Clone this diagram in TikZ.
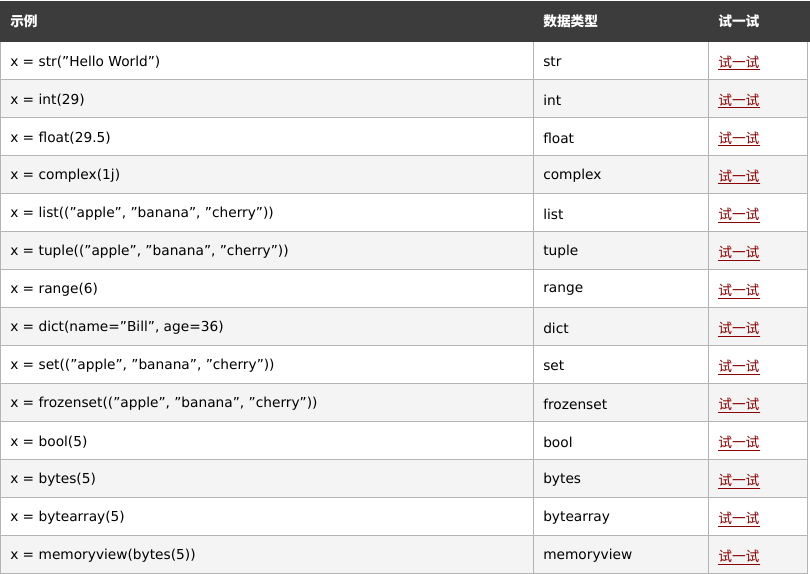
\documentclass[tikz,border=0pt]{standalone}
\usepackage{fontspec}
\setmainfont{DejaVu Sans}[Ligatures=ResetAll]
\newfontfamily\cjk{Noto Sans CJK SC}
\definecolor{hdr}{HTML}{3C3C3C}
\definecolor{alt}{HTML}{F4F4F4}
\definecolor{grid}{HTML}{B4B4B4}
\definecolor{lnk}{HTML}{8B0000}
\newcommand\qq{\char34 }
\begin{document}
\begin{tikzpicture}[x=0.75pt,y=-0.75pt,
  cell/.style={anchor=west,inner sep=0pt,font=\fontsize{10.3}{12}\selectfont},
  hcell/.style={anchor=west,inner sep=0pt,text=white,font=\cjk\bfseries\fontsize{10.3}{12}\selectfont},
  link/.style={anchor=west,inner sep=0pt,text=lnk,font=\cjk\fontsize{10.3}{12}\selectfont}]
\useasboundingbox (0,0) rectangle (810,574);
\fill[white] (0,0) rectangle (810,574);
\fill[hdr] (0,1) rectangle (810,42);
\node[hcell] (h1) at (10,21) {示例};
\node[hcell] (h2) at (543,21) {数据类型};
\node[hcell] (h3) at (718,21) {试一试};
\foreach[count=\i] \a/\b in {
 {x = str(\qq Hello World\qq)}/str,
 {x = int(29)}/int,
 {x = float(29.5)}/float,
 {x = complex(1j)}/complex,
 {x = list((\qq apple\qq, \qq banana\qq, \qq cherry\qq))}/list,
 {x = tuple((\qq apple\qq, \qq banana\qq, \qq cherry\qq))}/tuple,
 {x = range(6)}/range,
 {x = dict(name=\qq Bill\qq, age=36)}/dict,
 {x = set((\qq apple\qq, \qq banana\qq, \qq cherry\qq))}/set,
 {x = frozenset((\qq apple\qq, \qq banana\qq, \qq cherry\qq))}/frozenset,
 {x = bool(5)}/bool,
 {x = bytes(5)}/bytes,
 {x = bytearray(5)}/bytearray,
 {x = memoryview(bytes(5))}/memoryview}{
  \pgfmathsetmacro\yt{42+(\i-1)*38}
  \ifodd\i\else\fill[alt] (0,\yt) rectangle (808,\yt+38);\fi
  \draw[grid] (0,\yt+37.5) -- (808,\yt+37.5);
  \node[cell] (a\i) at (10,\yt+20) {\a};
  \node[cell] (b\i) at (543,\yt+20) {\b};
  \node[link] (c\i) at (718,\yt+20) {试一试};
  \draw[lnk,line width=0.75pt] (718,\yt+28) -- (760,\yt+28);
}
\draw[grid] (0.5,42) -- (0.5,574);
\draw[grid] (533.5,42) -- (533.5,574);
\draw[grid] (708.5,42) -- (708.5,574);
\draw[grid] (807.5,42) -- (807.5,574);
\end{tikzpicture}
\end{document}
